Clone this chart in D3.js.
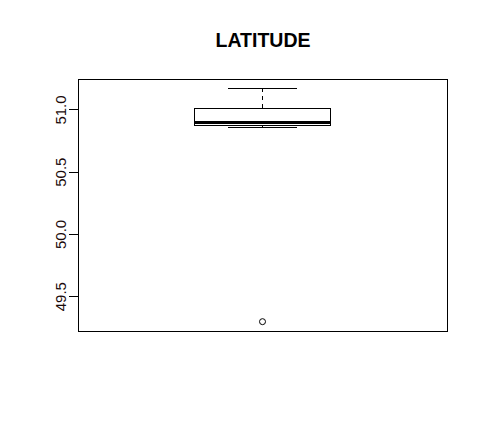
<!DOCTYPE html>
<html>
<head>
<meta charset="utf-8">
<script src="https://cdn.jsdelivr.net/npm/d3@7"></script>
<style>
html,body{margin:0;padding:0;background:#fff;}
svg{display:block;}
</style>
</head>
<body>
<script>
// Data
const title = "LATITUDE";
const categories = ["LATITUDE"];
const lowerWhisker = [50.855];
const q1Values = [50.873];
const medianValues = [50.898];
const q3Values = [51.008];
const upperWhisker = [51.17];
const outlierValues = [[49.295]];
const yTicks = [49.5, 50.0, 50.5, 51.0];

const W = 488, H = 429;
const plot = {left: 78, right: 447, top: 79, bottom: 331};

const svg = d3.select("body").append("svg").attr("width", W).attr("height", H);

// R-style axis extent: data range padded by 4%
const allVals = [].concat(lowerWhisker, upperWhisker, ...outlierValues);
const lo = d3.min(allVals), hi = d3.max(allVals);
const pad = (hi - lo) * 0.04;
const y = d3.scaleLinear().domain([lo - pad, hi + pad]).range([plot.bottom, plot.top]);
const x = d3.scaleLinear().domain([0.46, 1.54]).range([plot.left, plot.right]);

// Title
svg.append("text")
  .attr("x", (plot.left + plot.right) / 2 + 0.5)
  .attr("y", 47)
  .attr("text-anchor", "middle")
  .attr("font-family", "Liberation Sans, Arial, sans-serif")
  .attr("font-weight", "bold")
  .attr("font-size", 19.5)
  .attr("fill", "#000")
  .text(title);

// Y axis
const axis = svg.append("g")
  .attr("transform", `translate(${plot.left},0)`)
  .call(d3.axisLeft(y).tickValues(yTicks).tickFormat(d3.format(".1f")).tickSize(9).tickPadding(0));
axis.select(".domain").remove();
axis.selectAll(".tick line").attr("stroke", "#000").attr("shape-rendering", "crispEdges");
axis.selectAll(".tick text")
  .attr("font-family", "Liberation Sans, Arial, sans-serif")
  .attr("font-size", 15)
  .attr("fill", "#1a0a0a")
  .attr("text-anchor", "middle")
  .attr("dy", null)
  .attr("x", null)
  .attr("transform", "translate(-12.5,0) rotate(-90)")
  .attr("y", 0);

// Boxes
const boxHalf = 0.2, stapleHalf = 0.1;
categories.forEach((c, i) => {
  const cx = i + 1;
  const g = svg.append("g").attr("shape-rendering", "crispEdges");
  // whiskers (dashed)
  g.append("line")
    .attr("x1", x(cx)).attr("x2", x(cx))
    .attr("y1", y(q3Values[i])).attr("y2", y(upperWhisker[i]))
    .attr("stroke", "#000").attr("stroke-dasharray", "4,4");
  g.append("line")
    .attr("x1", x(cx)).attr("x2", x(cx))
    .attr("y1", y(q1Values[i])).attr("y2", y(lowerWhisker[i]))
    .attr("stroke", "#000").attr("stroke-dasharray", "4,4");
  // staples
  [upperWhisker[i], lowerWhisker[i]].forEach(v => {
    g.append("line")
      .attr("x1", x(cx - stapleHalf)).attr("x2", x(cx + stapleHalf))
      .attr("y1", y(v)).attr("y2", y(v))
      .attr("stroke", "#000");
  });
  // box
  g.append("rect")
    .attr("x", x(cx - boxHalf)).attr("width", x(cx + boxHalf) - x(cx - boxHalf))
    .attr("y", y(q3Values[i])).attr("height", y(q1Values[i]) - y(q3Values[i]))
    .attr("fill", "none").attr("stroke", "#000");
  // median
  g.append("line")
    .attr("x1", x(cx - boxHalf)).attr("x2", x(cx + boxHalf))
    .attr("y1", y(medianValues[i])).attr("y2", y(medianValues[i]))
    .attr("stroke", "#000").attr("stroke-width", 3);
  // outliers
  outlierValues[i].forEach(v => {
    svg.append("circle")
      .attr("cx", x(cx)).attr("cy", y(v)).attr("r", 3)
      .attr("fill", "none").attr("stroke", "#000");
  });
});

// Plot frame
svg.append("rect")
  .attr("x", plot.left + 0.5).attr("y", plot.top + 0.5)
  .attr("width", plot.right - plot.left).attr("height", plot.bottom - plot.top)
  .attr("fill", "none").attr("stroke", "#000");
</script>
</body>
</html>
